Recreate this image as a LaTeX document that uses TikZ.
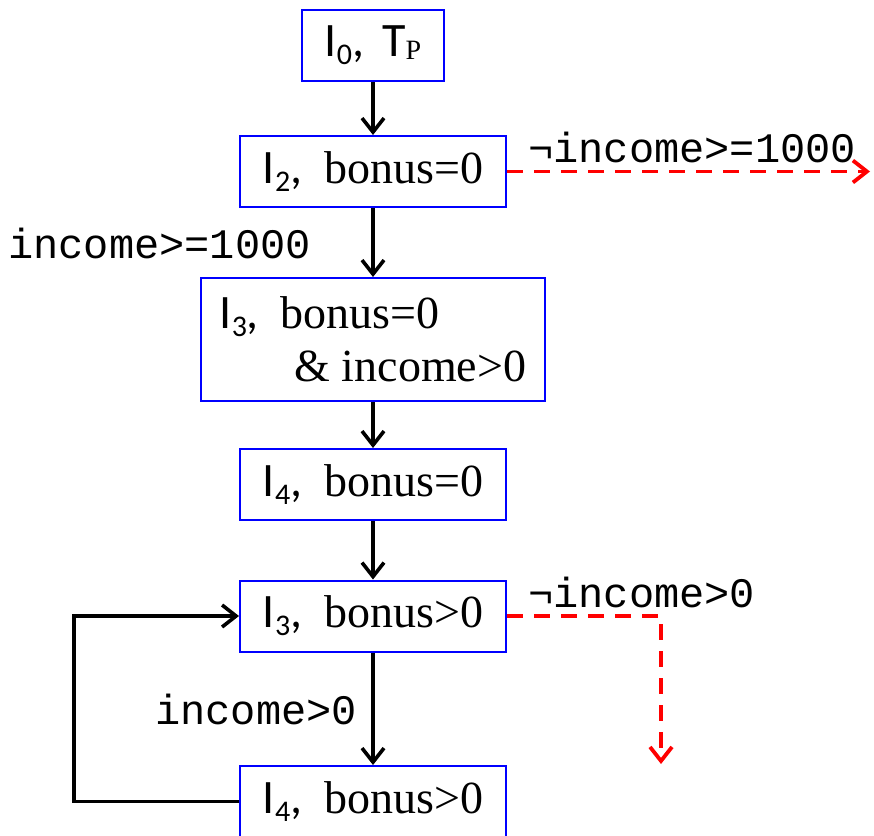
\documentclass[tikz,border=0pt]{standalone}
\usepackage{fontspec}
\setmainfont{Liberation Serif}
\newfontfamily\carl{Carlito}
\newfontfamily\monofnt{Liberation Mono}
\usetikzlibrary{arrows.meta}
\newcommand\ilab[1]{{\carl\fontsize{48}{48}\selectfont I\raisebox{-8pt}{\fontsize{30}{30}\selectfont #1},}}
\begin{document}
\begin{tikzpicture}[x=1pt,y=-1pt,
  box/.style={draw=blue,line width=2pt,inner sep=0pt,minimum width=266pt,minimum height=71pt,font=\fontsize{46}{53}\selectfont},
  arr/.style={line width=3.6pt,-{Straight Barb[length=14pt,width=22pt]}},
  redarr/.style={red,line width=3.8pt,dash pattern=on 16pt off 11pt,-{Straight Barb[length=14pt,width=22pt]}},
  cond/.style={font=\monofnt\fontsize{42}{42}\selectfont,inner sep=0pt}]
\useasboundingbox (0,0) rectangle (874,835);
\node[box,minimum width=142pt] (B0) at (373,45.5) {\ilab{0}\hspace{18pt}{\carl\fontsize{48}{48}\selectfont T}\raisebox{-3pt}{\fontsize{28}{28}\selectfont P}};
\node[box] (B2) at (373,171.5) {\ilab{2}\hspace{22pt}bonus=0};
\node[box,minimum width=344pt,minimum height=123pt,align=left] (B3) at (373,339.5) {\ilab{3}\hspace{22pt}bonus=0\\\hspace*{75pt}\& income>0};
\node[box] (B4) at (373,484.5) {\ilab{4}\hspace{22pt}bonus=0};
\node[box] (B5) at (373,616) {\ilab{3}\hspace{22pt}bonus>0};
\node[box] (B6) at (373,801.5) {\ilab{4}\hspace{22pt}bonus>0};
\coordinate (R1) at (870,171.5);
\coordinate (R2) at (661,764);
\draw[arr] (B0) -- (B2);
\draw[arr] (B2) -- (B3);
\draw[arr] (B3) -- (B4);
\draw[arr] (B4) -- (B5);
\draw[arr] (B5) -- (B6);
\draw[arr] (B6.west) -- ++(-165,0) |- (B5.west);
\draw[redarr] (B2.east) -- (R1);
\draw[redarr] (B5.east) -| (R2);
\node[cond,anchor=west] (L1) at (8,243) {income>=1000};
\node[cond,anchor=west] (L2) at (528,147) {¬income>=1000};
\node[cond,anchor=west] (L3) at (528,592) {¬income>0};
\node[cond,anchor=west] (L4) at (155,709) {income>0};
\end{tikzpicture}
\end{document}
